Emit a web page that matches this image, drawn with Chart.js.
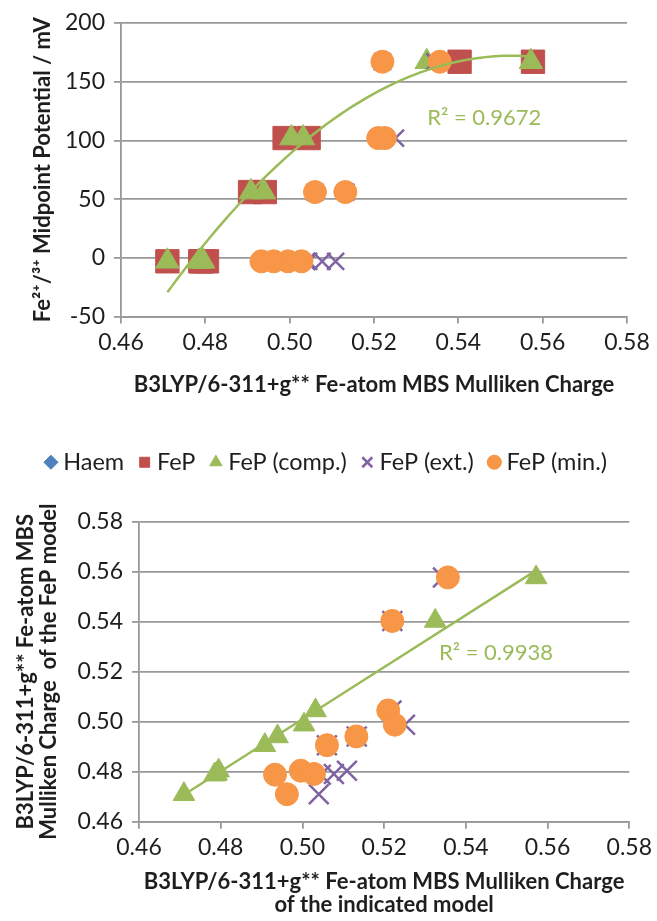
<!DOCTYPE html>
<html>
<head>
<meta charset="utf-8">
<script src="https://cdn.jsdelivr.net/npm/chart.js@4.4.1/dist/chart.umd.min.js"></script>
<style>
html, body { margin: 0; padding: 0; background: #ffffff; }
#topWrap { position: absolute; left: 0; top: 0; width: 657px; height: 484px; }
#botWrap { position: absolute; left: 0; top: 484px; width: 657px; height: 437px; }
</style>
</head>
<body>
<div id="topWrap"><canvas id="topChart"></canvas></div>
<div id="botWrap"><canvas id="botChart"></canvas></div>
<script>
// ---------------- data ----------------
const seriesNames = ['Haem', 'FeP', 'FeP (comp.)', 'FeP (ext.)', 'FeP (min.)'];
const haemCharge  = [];
const fepCharge   = [0.5577, 0.5403, 0.5045, 0.4988, 0.4941, 0.4906, 0.4804, 0.4791, 0.4788, 0.4710];
const compCharge  = [0.5572, 0.5325, 0.5032, 0.5004, 0.4939, 0.4908, 0.4795, 0.4790, 0.4785, 0.4710];
const extCharge   = [0.5344, 0.5220, 0.5218, 0.5251, 0.5133, 0.5060, 0.5109, 0.5077, 0.5045, 0.5040];
const minCharge   = [0.5356, 0.5220, 0.5210, 0.5226, 0.5132, 0.5060, 0.4996, 0.5028, 0.4933, 0.4962];
const potentialMV = [167, 167, 102, 102, 56, 56, -3, -3, -3, -3];
const chargeTicks    = [0.46, 0.48, 0.50, 0.52, 0.54, 0.56, 0.58];
const potentialTicks = [-50, 0, 50, 100, 150, 200];
const r2TopText    = 'R² = 0.9672';
const r2BottomText = 'R² = 0.9938';
const topYTitle = 'Fe²⁺/³⁺ Midpoint Potential / mV';
const xTitleLine = 'B3LYP/6-311+g** Fe-atom MBS Mulliken Charge';
const botXTitle = ['B3LYP/6-311+g** Fe-atom MBS Mulliken Charge', 'of the indicated model'];
const botYTitle = ['B3LYP/6-311+g** Fe-atom MBS', 'Mulliken Charge  of the FeP model'];

// ---------------- styling ----------------
const COL = { haem: '#4F81BD', fep: '#C0504D', comp: '#9BBB59', ext: '#8064A2', min: '#F79646' };
const FAMILY = "Lato, 'DejaVu Sans', sans-serif";
const GRID = '#989898';
const TXT = '#1e1e1e';
const TICK_SIZE = 23;
const TITLE_SIZE = 22;
Chart.defaults.font.family = FAMILY;
Chart.defaults.color = TXT;

const pairs = (xs, ys) => xs.map((x, i) => ({ x: x, y: ys[i] }));

// least-squares polynomial trendline (as the spreadsheet does) from a series
function polyFit(xs, ys, deg) {
  const n = deg + 1;
  const x0 = xs.reduce((a, b) => a + b, 0) / xs.length;
  const A = Array.from({ length: n }, () => new Array(n + 1).fill(0));
  xs.forEach((x, i) => {
    const t = x - x0;
    for (let r = 0; r < n; r++) {
      for (let c = 0; c < n; c++) A[r][c] += Math.pow(t, r + c);
      A[r][n] += ys[i] * Math.pow(t, r);
    }
  });
  for (let i = 0; i < n; i++) {
    let p = i;
    for (let k = i + 1; k < n; k++) if (Math.abs(A[k][i]) > Math.abs(A[p][i])) p = k;
    [A[i], A[p]] = [A[p], A[i]];
    for (let k = 0; k < n; k++) {
      if (k === i) continue;
      const f = A[k][i] / A[i][i];
      for (let c = i; c <= n; c++) A[k][c] -= f * A[i][c];
    }
  }
  const coef = A.map((row, i) => row[n] / row[i]);
  return (x) => coef.reduce((s, c, k) => s + c * Math.pow(x - x0, k), 0);
}
function trendPoints(xs, ys, deg, steps) {
  const f = polyFit(xs, ys, deg);
  const lo = Math.min(...xs), hi = Math.max(...xs);
  const pts = [];
  for (let i = 0; i <= steps; i++) {
    const x = lo + (hi - lo) * i / steps;
    pts.push({ x: x, y: f(x) });
  }
  return pts;
}

const r2Plugin = {
  id: 'r2label',
  afterDatasetsDraw(chart, args, opts) {
    const { ctx, scales } = chart;
    ctx.save();
    ctx.font = '22px ' + FAMILY;
    ctx.fillStyle = COL.comp;
    ctx.textAlign = 'left';
    ctx.textBaseline = 'middle';
    ctx.fillText(opts.text, scales.x.getPixelForValue(opts.x), scales.y.getPixelForValue(opts.y));
    ctx.restore();
  }
};

function markerSets(fepData, ysOther, sizes) {
  return [
    { label: seriesNames[0], data: pairs(haemCharge, haemCharge), pointStyle: 'rectRot',
      backgroundColor: COL.haem, borderColor: COL.haem, borderWidth: 1, pointRadius: sizes.rect, order: 5 },
    { label: seriesNames[1], data: fepData, pointStyle: 'rect',
      backgroundColor: COL.fep, borderColor: COL.fep, borderWidth: 1, pointRadius: sizes.rect, order: 4 },
    { label: seriesNames[2], data: pairs(compCharge, ysOther), pointStyle: 'triangle',
      backgroundColor: COL.comp, borderColor: COL.comp, borderWidth: 1, pointRadius: sizes.tri, order: 3 },
    { label: seriesNames[3], data: pairs(extCharge, ysOther), pointStyle: 'crossRot',
      backgroundColor: COL.ext, borderColor: COL.ext, borderWidth: 2.5, pointRadius: sizes.cross, order: 2 },
    { label: seriesNames[4], data: pairs(minCharge, ysOther), pointStyle: 'circle',
      backgroundColor: COL.min, borderColor: COL.min, borderWidth: 1, pointRadius: sizes.circ, order: 1 }
  ];
}

function chargeAxis(extra) {
  return Object.assign({
    type: 'linear', min: 0.46, max: 0.58,
    afterBuildTicks: (s) => { s.ticks = chargeTicks.map(v => ({ value: v })); },
    ticks: { callback: (v) => Number(v).toFixed(2), font: { size: TICK_SIZE }, color: TXT, padding: 5 },
    border: { display: true, color: GRID, width: 1.8 }
  }, extra);
}

// ---------------- top chart ----------------
const topDatasets = markerSets(pairs(fepCharge, potentialMV), potentialMV,
  { rect: 16.5, tri: 13.5, cross: 12, circ: 11.5 });
topDatasets.push({
  label: 'trend', type: 'line', data: trendPoints(compCharge, potentialMV, 2, 80),
  borderColor: COL.comp, borderWidth: 2.5, pointRadius: 0, fill: false, tension: 0, order: 0
});

new Chart(document.getElementById('topChart'), {
  type: 'scatter',
  data: { datasets: topDatasets },
  plugins: [r2Plugin],
  options: {
    responsive: true, maintainAspectRatio: false, animation: false, devicePixelRatio: 1, events: [],
    layout: { padding: { top: 23, right: 30, left: 0, bottom: 0 } },
    plugins: {
      tooltip: { enabled: false },
      r2label: { text: r2TopText, x: 0.5326, y: 119 },
      legend: {
        display: true, position: 'bottom', align: 'end',
        labels: {
          usePointStyle: true, boxWidth: 1, boxHeight: 10, padding: 20,
          font: { size: 23.5 }, color: TXT,
          filter: (item) => item.datasetIndex < seriesNames.length,
          sort: (a, b) => a.datasetIndex - b.datasetIndex
        }
      }
    },
    scales: {
      x: chargeAxis({
        grid: { drawOnChartArea: false, drawTicks: true, tickLength: 7, color: GRID, lineWidth: 1.8 },
        title: { display: true, text: xTitleLine, font: { size: TITLE_SIZE, weight: 'bold' }, color: TXT,
                 padding: { top: 0, bottom: 32.3 } },
        afterFit: (s) => { s.height = 114; }
      }),
      y: {
        type: 'linear', min: -50, max: 200,
        afterBuildTicks: (s) => { s.ticks = potentialTicks.map(v => ({ value: v })); },
        ticks: { font: { size: TICK_SIZE }, color: TXT, padding: 9 },
        grid: { drawOnChartArea: true, drawTicks: true, tickLength: 7, color: GRID, lineWidth: 1.8 },
        border: { display: true, color: GRID, width: 1.8 },
        title: { display: true, text: topYTitle, font: { size: TITLE_SIZE, weight: 'bold' }, color: TXT,
                 padding: { top: 29.8, bottom: 0 } },
        afterFit: (s) => { s.width = 121; }
      }
    }
  }
});

// ---------------- bottom chart ----------------
const botDatasets = markerSets([], fepCharge, { rect: 16.5, tri: 12.5, cross: 14, circ: 11.5 });
botDatasets.push({
  label: 'trend', type: 'line', data: trendPoints(compCharge, fepCharge, 1, 2),
  borderColor: COL.comp, borderWidth: 2.5, pointRadius: 0, fill: false, tension: 0, order: 0
});

new Chart(document.getElementById('botChart'), {
  type: 'scatter',
  data: { datasets: botDatasets },
  plugins: [r2Plugin],
  options: {
    responsive: true, maintainAspectRatio: false, animation: false, devicePixelRatio: 1, events: [],
    layout: { padding: { top: 37.7, right: 23, left: 0, bottom: 0 } },
    plugins: {
      tooltip: { enabled: false },
      legend: { display: false },
      r2label: { text: r2BottomText, x: 0.5334, y: 0.5275 }
    },
    scales: {
      x: chargeAxis({
        grid: { drawOnChartArea: false, drawTicks: true, tickLength: 7, color: GRID, lineWidth: 1.8 },
        title: { display: true, text: botXTitle, font: { size: TITLE_SIZE, weight: 'bold', lineHeight: 1.05 }, color: TXT,
                 padding: { top: 0, bottom: 4.3 } },
        afterFit: (s) => { s.height = 99.3; }
      }),
      y: chargeAxis({
        grid: { drawOnChartArea: true, drawTicks: true, tickLength: 7, color: GRID, lineWidth: 1.8 },
        ticks: { callback: (v) => Number(v).toFixed(2), font: { size: TICK_SIZE }, color: TXT, padding: 9 },
        title: { display: true, text: botYTitle, font: { size: TITLE_SIZE, weight: 'bold', lineHeight: 1.05 }, color: TXT,
                 padding: { top: 14.5, bottom: 0 } },
        afterFit: (s) => { s.width = 139; }
      })
    }
  }
});
</script>
</body>
</html>
